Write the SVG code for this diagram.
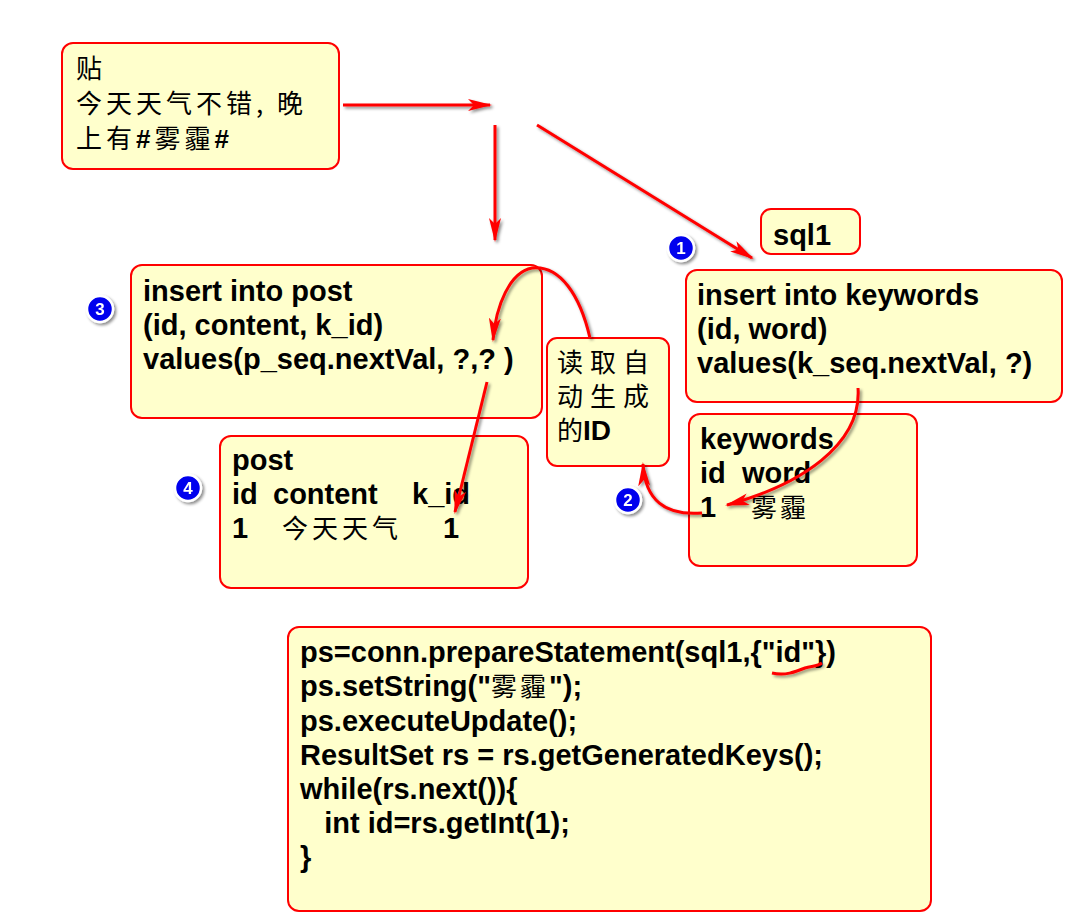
<svg xmlns="http://www.w3.org/2000/svg" width="1085" height="916" viewBox="0 0 1085 916">
<style>
.box{fill:#ffffcc;stroke:#ff0000;stroke-width:2}
.t{font-family:"Liberation Sans","Noto Sans CJK SC",sans-serif;font-weight:bold;font-size:29px;fill:#000}
.c{font-family:"Noto Sans CJK SC","Liberation Sans",sans-serif;font-weight:normal;font-size:26px;fill:#000}
.ln{fill:none;stroke:#ff0000;stroke-width:3}
.badge circle{fill:#0000ee;stroke:#fff;stroke-width:2.5}
.badge text{font-family:"Liberation Sans",sans-serif;font-weight:bold;font-size:17px;fill:#fff;text-anchor:middle}
</style>
<defs>
<marker id="ah" markerWidth="24" markerHeight="12" refX="22" refY="6" orient="auto" markerUnits="userSpaceOnUse">
<path d="M0,0 L24,6 L0,12 L6,6 Z" fill="#ff0000"/>
</marker>
<filter id="sh" x="-20%" y="-20%" width="150%" height="150%">
<feDropShadow dx="2" dy="2" stdDeviation="1.5" flood-color="#000" flood-opacity="0.45"/>
</filter>
</defs>
<rect width="1085" height="916" fill="#fff"/>

<g id="post-msg">
<rect class="box" x="62" y="43" width="277" height="126" rx="11"/>
<text class="c" x="76" y="78" font-size="25">贴</text>
<text class="c" x="76" y="113" font-size="25" letter-spacing="4">今天天气不错, 晚</text>
<text class="c" x="76" y="148" font-size="25" letter-spacing="4">上有<tspan font-family="Liberation Sans" font-weight="bold">#</tspan>雾霾<tspan font-family="Liberation Sans" font-weight="bold">#</tspan></text>
</g>

<g id="sql1-label">
<rect class="box" x="761" y="209" width="99" height="45" rx="10"/>
<text class="t" x="773" y="245">sql1</text>
</g>

<g id="insert-keywords">
<rect class="box" x="686" y="270" width="376" height="132" rx="11"/>
<text class="t" x="697" y="305">insert into keywords</text>
<text class="t" x="697" y="339">(id, word)</text>
<text class="t" x="697" y="373">values(k_seq.nextVal, ?)</text>
</g>

<g id="insert-post">
<rect class="box" x="131" y="265" width="411" height="153" rx="11"/>
<text class="t" x="143" y="301">insert into post</text>
<text class="t" x="143" y="335">(id, content, k_id)</text>
<text class="t" x="143" y="369">values(p_seq.nextVal, ?,? )</text>
</g>

<g id="read-id">
<rect class="box" x="547" y="338" width="122" height="128" rx="10"/>
<text class="c" x="557" y="372" letter-spacing="7">读取自</text>
<text class="c" x="557" y="406" letter-spacing="7">动生成</text>
<text class="c" x="557" y="440">的<tspan font-family="Liberation Sans" font-weight="bold" font-size="28">ID</tspan></text>
</g>

<g id="post-table">
<rect class="box" x="220" y="436" width="308" height="152" rx="11"/>
<text class="t" x="232" y="470">post</text>
<text class="t" y="504"><tspan x="232">id</tspan><tspan x="273">content</tspan><tspan x="412">k_id</tspan></text>
<text class="t" y="538"><tspan x="232">1</tspan><tspan class="c" x="282" letter-spacing="4">今天天气</tspan><tspan x="443">1</tspan></text>
</g>

<g id="keywords-table">
<rect class="box" x="689" y="414" width="228" height="152" rx="11"/>
<text class="t" x="700" y="449">keywords</text>
<text class="t" y="483"><tspan x="700">id</tspan><tspan x="742">word</tspan></text>
<text class="t" y="517"><tspan x="700">1</tspan><tspan class="c" x="751" letter-spacing="3">雾霾</tspan></text>
</g>

<g id="code">
<rect class="box" x="288" y="627" width="643" height="284" rx="11"/>
<text class="t" x="300" y="662">ps=conn.prepareStatement(sql1,{"id"})</text>
<text class="t" x="300" y="696">ps.setString("<tspan class="c" letter-spacing="3">雾霾</tspan>");</text>
<text class="t" x="300" y="731">ps.executeUpdate();</text>
<text class="t" x="300" y="765">ResultSet rs = rs.getGeneratedKeys();</text>
<text class="t" x="300" y="799">while(rs.next()){</text>
<text class="t" x="300" y="833" xml:space="preserve">   int id=rs.getInt(1);</text>
<text class="t" x="300" y="867">}</text>
</g>

<g id="badges" filter="url(#sh)">
<g class="badge"><circle cx="681" cy="248" r="13"/><text x="681" y="254">1</text></g>
<g class="badge"><circle cx="628" cy="500" r="13"/><text x="628" y="506">2</text></g>
<g class="badge"><circle cx="100" cy="309" r="13"/><text x="100" y="315">3</text></g>
<g class="badge"><circle cx="188" cy="488" r="13"/><text x="188" y="494">4</text></g>
</g>

<g id="connectors" filter="url(#sh)">
<path class="ln" d="M343,105 L490,105" marker-end="url(#ah)"/>
<path class="ln" d="M495,125 L495,240" marker-end="url(#ah)"/>
<path class="ln" d="M537,125 L752,258" marker-end="url(#ah)"/>
<path class="ln" d="M590,338 C580,295 560,265 532,268 C510,272 496,305 493,340" marker-end="url(#ah)"/>
<path class="ln" d="M487,382 L455,512" marker-end="url(#ah)"/>
<path class="ln" d="M858,388 C862,445 800,485 727,505" marker-end="url(#ah)"/>
<path class="ln" d="M702,513 C665,516 645,500 643,464" marker-end="url(#ah)"/>
<path class="ln" stroke-width="2.5" d="M772,673 C785,676 795,672 805,668 C812,666 818,666 822,663"/>
</g>
</svg>
